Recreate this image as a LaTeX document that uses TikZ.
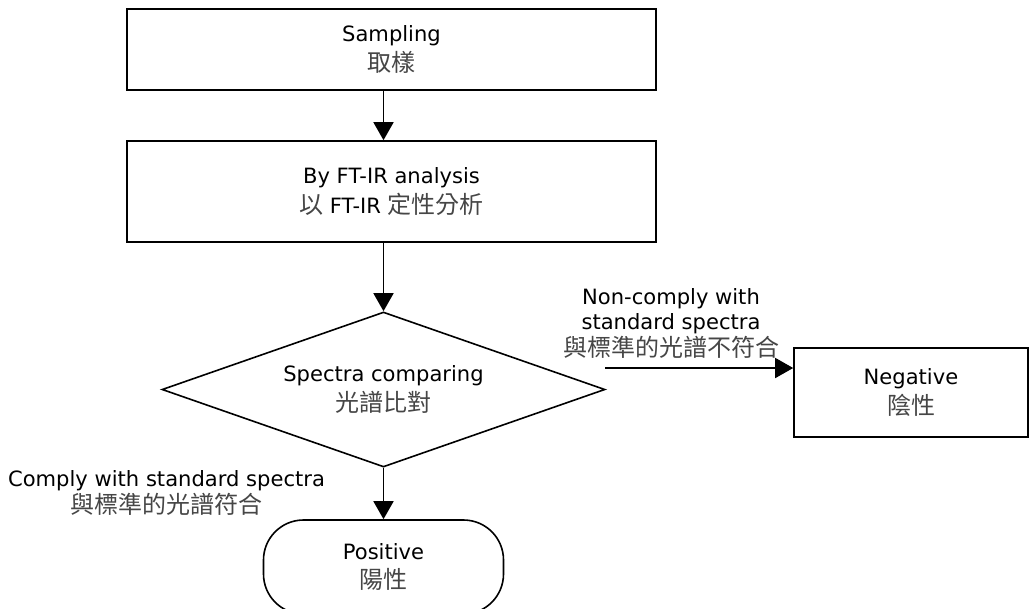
\documentclass[tikz,border=0pt]{standalone}
\usepackage{fontspec}
\setmainfont{DejaVu Sans}
\newfontfamily\cjkfont{Noto Sans CJK TC}
\definecolor{cjkgray}{RGB}{70,70,70}
\newcommand{\zh}[1]{{\cjkfont\fontsize{18}{19}\selectfont\color{cjkgray}#1}}
\usetikzlibrary{shapes.geometric, arrows.meta, positioning}

\begin{document}
\begin{tikzpicture}[x=0.75pt, y=-0.75pt,
  every node/.style={font=\fontsize{15.8}{19}\selectfont, align=center, inner sep=0pt},
  flowbox/.style={draw, line width=1.2pt, rectangle},
  flowarrow/.style={line width=1.2pt, -{Triangle[length=13.5pt, width=15pt]}}]
  \useasboundingbox (0,0) rectangle (1029,608);

  % Steps
  \node[flowbox, minimum width=396.75pt, minimum height=60.75pt] (samp) at (391.5, 49.5) {Sampling\\[3pt]\zh{取樣}};
  \node[flowbox, minimum width=396.75pt, minimum height=75.75pt] (ftir) at (391.5, 191.5) {By FT-IR analysis\\[3pt]\zh{以} FT-IR \zh{定性分析}};

  % Decision
  \node[draw, diamond, aspect=2.86, line width=1.2pt, minimum width=332.25pt, minimum height=116.25pt] (cmp) at (383.5, 389.5) {Spectra comparing\\[3pt]\zh{光譜比對}};

  % Results
  \node[flowbox, rounded corners=30pt, minimum width=180pt, minimum height=70.5pt] (pos) at (383.5, 567) {Positive\\[3pt]\zh{陽性}};
  \node[flowbox, minimum width=175.5pt, minimum height=66.75pt] (neg) at (911, 392.5) {Negative\\[3pt]\zh{陰性}};

  % Arrows
  \draw[flowarrow] (samp.south -| cmp.north) -- (ftir.north -| cmp.north);
  \draw[flowarrow] (ftir.south -| cmp.north) -- (cmp.north);
  \draw[flowarrow] (cmp.south) -- (pos.north);
  \coordinate (ncstart) at (605, 368);
  \draw[flowarrow] (ncstart) -- (ncstart -| neg.west);

  % Branch labels
  \node (nclabel) at (671, 323) {Non-comply with\\standard spectra\\[1pt]\zh{與標準的光譜不符合}};
  \node (clabel) at (166.5, 493) {Comply with standard spectra\\[1pt]\zh{與標準的光譜符合}};
\end{tikzpicture}
\end{document}
